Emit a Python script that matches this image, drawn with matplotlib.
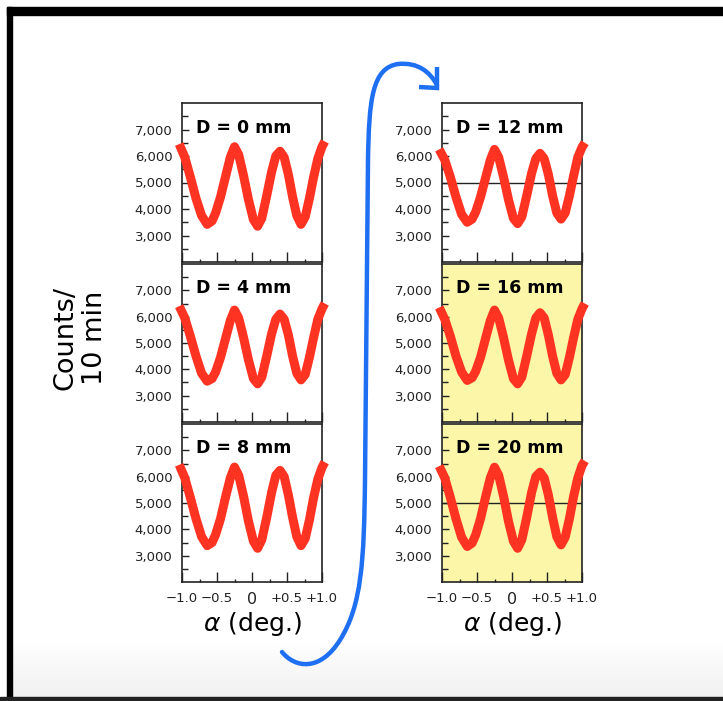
import numpy as np
import matplotlib
matplotlib.use("Agg")
import matplotlib.pyplot as plt
from matplotlib.path import Path
from matplotlib.patches import PathPatch, Rectangle
from matplotlib.ticker import FixedLocator, FuncFormatter

plt.rcParams['font.family'] = ['DejaVu Sans']
plt.rcParams['mathtext.fontset'] = 'dejavusans'

# tilt angle (deg) and counts per 10 min
alpha = [-1.04, -0.96, -0.88, -0.80, -0.72, -0.64, -0.57, -0.52, -0.45, -0.38, -0.31,
         -0.25, -0.19, -0.12, -0.05, 0.02, 0.08, 0.14, 0.21, 0.28, 0.34, 0.40,
         0.46, 0.52, 0.58, 0.64, 0.70, 0.76, 0.82, 0.88, 0.94, 1.00, 1.04]

counts_d0 = [6450, 5950, 5200, 4400, 3750, 3420, 3550, 3850, 4450, 5200, 5950,
             6350, 6050, 5250, 4350, 3600, 3350, 3650, 4500, 5400, 6000, 6180,
             5950, 5300, 4450, 3750, 3420, 3700, 4400, 5200, 5900, 6350, 6550]
counts_d4 = [6400, 5950, 5250, 4500, 3850, 3550, 3650, 3900, 4450, 5150, 5850,
             6250, 5950, 5200, 4350, 3650, 3450, 3700, 4500, 5350, 5900, 6100,
             5900, 5300, 4500, 3850, 3600, 3800, 4450, 5200, 5900, 6300, 6500]
counts_d8 = [6450, 5950, 5200, 4400, 3720, 3380, 3500, 3800, 4400, 5200, 5950,
             6365, 6050, 5250, 4300, 3550, 3280, 3600, 4450, 5400, 6050, 6240,
             6000, 5300, 4450, 3720, 3380, 3650, 4350, 5200, 5900, 6350, 6550]
counts_d12 = [6250, 5850, 5200, 4450, 3800, 3500, 3620, 3880, 4450, 5150, 5850,
              6250, 5950, 5200, 4350, 3650, 3450, 3700, 4500, 5350, 5900, 6100,
              5900, 5300, 4500, 3850, 3620, 3850, 4500, 5250, 5950, 6330, 6500]
counts_d16 = [6350, 5900, 5250, 4500, 3900, 3580, 3680, 3920, 4450, 5150, 5850,
              6250, 5950, 5200, 4350, 3650, 3450, 3700, 4500, 5350, 5950, 6150,
              5950, 5300, 4500, 3850, 3600, 3800, 4450, 5200, 5900, 6300, 6500]
counts_d20 = [6400, 5950, 5200, 4400, 3700, 3350, 3480, 3780, 4400, 5200, 5950,
              6360, 6050, 5250, 4300, 3550, 3280, 3600, 4450, 5400, 6000, 6170,
              5950, 5300, 4450, 3720, 3410, 3700, 4400, 5250, 5950, 6420, 6600]

panel_labels = ['D = 0 mm', 'D = 4 mm', 'D = 8 mm', 'D = 12 mm', 'D = 16 mm', 'D = 20 mm']
panel_counts = [counts_d0, counts_d4, counts_d8, counts_d12, counts_d16, counts_d20]
yellow_panel = [False, False, False, False, True, True]
line_5000 = [False, False, False, True, False, True]

x_ticks = [-1.0, -0.5, 0.0, 0.5, 1.0]
x_ticklabels = ['\u22121.0', '\u22120.5', '0', '+0.5', '+1.0']
y_ticks = [3000, 4000, 5000, 6000, 7000]

W, H = 723, 701
fig = plt.figure(figsize=(W / 100, H / 100), dpi=100)

# background: slide frame and faint gradient at the bottom
bg = fig.add_axes([0, 0, 1, 1], zorder=-10)
bg.set_xlim(0, W)
bg.set_ylim(H, 0)
bg.axis('off')
grad = np.linspace(1.0, 0.94, 60).reshape(-1, 1)
bg.imshow(grad, cmap='gray', vmin=0, vmax=1, extent=[12, W, 697, 637], aspect='auto')
bg.add_patch(Rectangle((7, 7), W - 7, 8, color='black'))
bg.add_patch(Rectangle((7, 7), 5, 690, color='black'))
bg.add_patch(Rectangle((0, 697), W, 4, color='#222222'))

# panel boxes in pixels: (left, top, width, height)
cols = [182, 442]
rows = [(103, 159), (264, 158), (424, 158)]

for i in range(6):
    c, r = divmod(i, 3)
    top, h = rows[r]
    ax = fig.add_axes([cols[c] / W, 1 - (top + h) / H, 140 / W, h / H])
    if yellow_panel[i]:
        ax.set_facecolor('#fbf6a8')
    if line_5000[i]:
        ax.axhline(5000, color='#222222', lw=1.0, zorder=1)
    ax.plot(alpha, panel_counts[i], color='#ff3322', lw=6.5,
            solid_capstyle='butt', solid_joinstyle='round', clip_on=False, zorder=3)
    ax.set_xlim(-1.0, 1.0)
    ax.set_ylim(2000, 8000)
    ax.yaxis.set_major_locator(FixedLocator(y_ticks))
    ax.yaxis.set_minor_locator(FixedLocator(np.arange(2500, 8000, 1000)))
    ax.yaxis.set_major_formatter(FuncFormatter(lambda v, p: '{:,.0f}'.format(v)))
    ax.xaxis.set_major_locator(FixedLocator(x_ticks))
    ax.xaxis.set_minor_locator(FixedLocator([-0.75, -0.25, 0.25, 0.75]))
    ax.tick_params(axis='y', which='major', direction='in', length=5, width=1,
                   labelsize=9.5, pad=7, colors='#222222')
    ax.tick_params(axis='y', which='minor', direction='in', length=4, width=1, colors='#222222')
    ax.tick_params(axis='x', which='major', direction='in', length=7, width=1,
                   labelsize=9.5, pad=7, colors='#222222')
    ax.tick_params(axis='x', which='minor', direction='in', length=2, width=1, colors='#222222')
    for sp in ax.spines.values():
        sp.set_color('#222222')
        sp.set_linewidth(1.2)
    if r == 2:
        ax.set_xticklabels(x_ticklabels)
        for t in ax.get_xticklabels():
            if t.get_text() == '0':
                t.set_fontsize(11.5)
        ax.set_xlabel(r'$\alpha$ (deg.)', fontsize=18, labelpad=2)
    else:
        ax.set_xticklabels([])
    ax.text(0.1, 0.845, panel_labels[i], transform=ax.transAxes, fontsize=12.5,
            fontweight='bold', ha='left', va='center', zorder=4)

fig.text(80 / W, 1 - 338 / H, 'Counts/\n10 min', rotation=90, ha='center',
         va='center', fontsize=19.5)

# blue curved arrow from the bottom of the left column to the top of the right
blue = '#1f6ff2'
verts = [(282, 652),
         (295, 668), (320, 672), (340, 640),
         (362, 605), (364, 560), (365, 480),
         (368, 160),
         (369, 100), (372, 68), (398, 64),
         (418, 62), (430, 72), (437, 85)]
codes = [Path.MOVETO,
         Path.CURVE4, Path.CURVE4, Path.CURVE4,
         Path.CURVE4, Path.CURVE4, Path.CURVE4,
         Path.LINETO,
         Path.CURVE4, Path.CURVE4, Path.CURVE4,
         Path.CURVE4, Path.CURVE4, Path.CURVE4]
bg.add_patch(PathPatch(Path(verts, codes), facecolor='none', edgecolor=blue, lw=3.2,
                       capstyle='round'))
bg.plot([437, 437, 419], [67, 88, 87], color=blue, lw=3.2,
        solid_joinstyle='miter', solid_capstyle='butt')

fig.savefig('out.png', dpi=100)
